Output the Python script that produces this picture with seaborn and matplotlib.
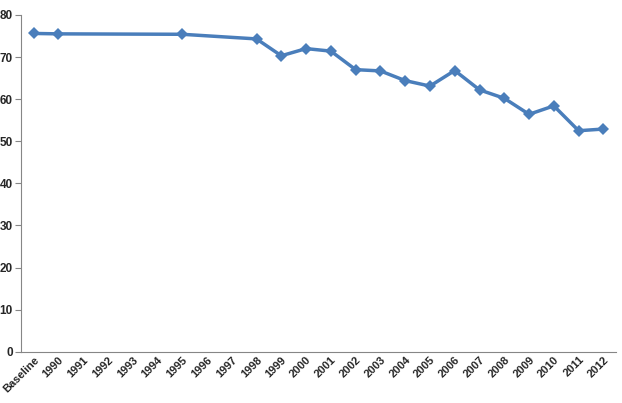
import numpy as np
import matplotlib
matplotlib.use("Agg")
import matplotlib.pyplot as plt
import seaborn as sns
import pandas as pd

categories = ["Baseline"] + [str(y) for y in range(1990, 2013)]
values = [75.6, 75.5, np.nan, np.nan, np.nan, np.nan, 75.4, np.nan, np.nan,
          74.3, 70.3, 72.0, 71.4, 67.0, 66.7, 64.4, 63.1, 66.8, 62.2, 60.2,
          56.4, 58.4, 52.5, 52.9]

sns.set_style("white")
plt.rcParams['font.family'] = ['Liberation Sans', 'DejaVu Sans']
df = pd.DataFrame({"x": np.arange(len(categories)), "v": values})

fig = plt.figure(figsize=(6.22, 4.03), dpi=100)
ax = fig.add_axes([0.034, 0.127, 0.956, 0.836])
sns.lineplot(data=df, x="x", y="v", ax=ax, color="#4a7ebb", linewidth=2.5,
             marker="D", markersize=6, markeredgewidth=0)
ax.set_xlim(-0.5, len(categories) - 0.5)
ax.set_ylim(0, 80)
ax.set_yticks(range(0, 81, 10))
ax.set_xticks(range(len(categories)))
ax.set_xticklabels(categories, rotation=45, ha="right", rotation_mode="anchor",
                   fontsize=8, fontweight="bold")
for t in ax.get_yticklabels():
    t.set_fontsize(8.5); t.set_fontweight("bold")
ax.set_xlabel(""); ax.set_ylabel("")
for s in ["top", "right"]:
    ax.spines[s].set_visible(False)
for s in ["left", "bottom"]:
    ax.spines[s].set_color("#868686")
ax.tick_params(axis="both", length=4, color="#868686", direction="out", pad=2)
ax.tick_params(axis="x", left=True, bottom=True)
ax.tick_params(axis="y", left=True)
ax.set_xticks(np.arange(-0.5, len(categories), 1), minor=True)
ax.tick_params(axis="x", which="major", length=0)
ax.tick_params(axis="x", which="minor", length=4, color="#868686")
fig.savefig("out.png", dpi=100)
